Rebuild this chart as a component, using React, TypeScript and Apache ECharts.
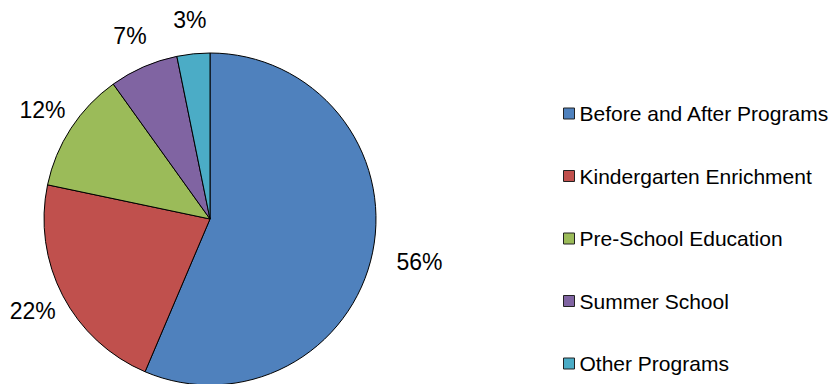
import React, { useEffect, useRef } from "react";
import * as echarts from "echarts";

const categories = [
  "Before and After Programs",
  "Kindergarten Enrichment",
  "Pre-School Education",
  "Summer School",
  "Other Programs",
];
const shares = [56.4, 21.9, 11.8, 6.7, 3.2];
const colors = ["#4F81BD", "#C0504D", "#9BBB59", "#8064A2", "#4BACC6"];

const CX = 210;
const CY = 219;
const R = 166;
const FONT = 'Arial, "Liberation Sans", sans-serif';

export default function App() {
  const ref = useRef<HTMLDivElement>(null);
  useEffect(() => {
    if (!ref.current) return;
    const chart = echarts.init(ref.current, undefined, { renderer: "svg" });
    const total = shares.reduce((a, b) => a + b, 0);
    chart.setOption({
      animation: false,
      backgroundColor: "#ffffff",
      legend: {
        orient: "vertical",
        left: 558,
        top: 98,
        itemWidth: 11,
        itemHeight: 11,
        itemGap: 41.5,
        icon: "rect",
        data: categories,
        textStyle: { fontFamily: FONT, fontSize: 21, lineHeight: 21, color: "#000" },
        itemStyle: { borderColor: "#222", borderWidth: 1 },
      },
      series: [
        {
          type: "pie",
          center: [CX, CY],
          radius: R,
          startAngle: 90,
          clockwise: true,
          avoidLabelOverlap: false,
          itemStyle: { borderColor: "#000", borderWidth: 1 },
          label: {
            show: true,
            position: "outside",
            fontFamily: FONT,
            fontSize: 23,
            color: "#000",
            formatter: (p: any) => `${Math.round(p.percent)}%`,
          },
          labelLine: { show: false },
          labelLayout: (params: any) => {
            const i = params.dataIndex;
            let cum = 0;
            for (let j = 0; j < i; j++) cum += shares[j];
            const theta = ((cum + shares[i] / 2) / total) * Math.PI * 2;
            const s = Math.sin(theta);
            const c = Math.cos(theta);
            const d = R + 34 + 14 * Math.max(0, s);
            return {
              x: CX + d * s,
              y: CY - d * c,
              align: "center",
              verticalAlign: "middle",
            };
          },
          data: categories.map((name, i) => ({
            name,
            value: shares[i],
            itemStyle: { color: colors[i] },
          })),
        },
      ],
    });
    return () => chart.dispose();
  }, []);
  return (
    <div
      ref={ref}
      style={{ position: "absolute", left: 0, top: 0, width: 835, height: 384 }}
    />
  );
}
